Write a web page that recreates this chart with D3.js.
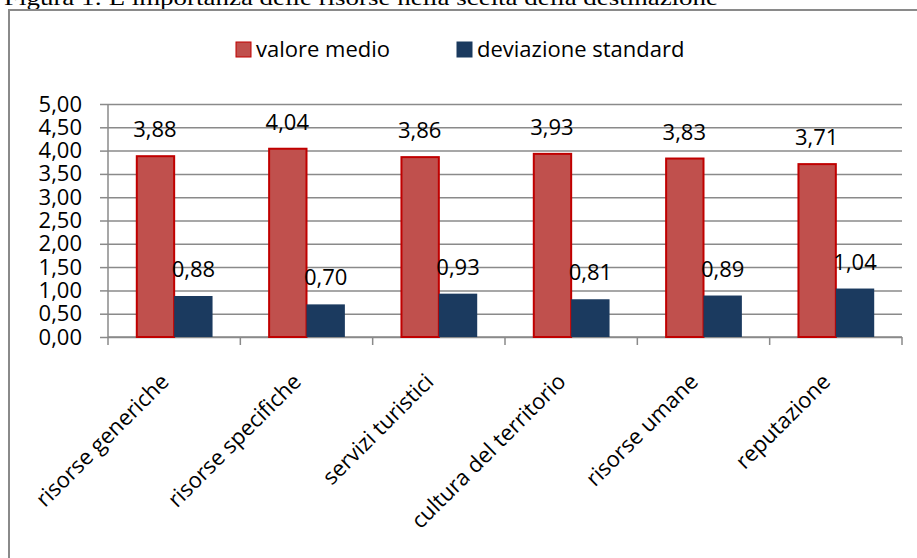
<!DOCTYPE html>
<html>
<head>
<meta charset="utf-8">
<script src="https://cdn.jsdelivr.net/npm/d3@7"></script>
<style>
  body { margin: 0; background: #fff; }
  svg { display: block; }
  text { font-family: "Open Sans", sans-serif; fill: #000; }
  .title { font-family: "Liberation Serif", "Times New Roman", serif; }
</style>
</head>
<body>
<svg id="chart" width="917" height="558"></svg>
<script>
var categories = ["risorse generiche", "risorse specifiche", "servizi turistici", "cultura del territorio", "risorse umane", "reputazione"];
var seriesNames = ["valore medio", "deviazione standard"];
var valoreMedio = [3.88, 4.04, 3.86, 3.93, 3.83, 3.71];
var deviazioneStandard = [0.88, 0.70, 0.93, 0.81, 0.89, 1.04];
var yTicks = [0, 0.5, 1, 1.5, 2, 2.5, 3, 3.5, 4, 4.5, 5];
var titleText = "Figura 1: L\u2019importanza delle risorse nella scelta della destinazione";

var colors = ["#c0504d", "#1b3a5f"];
var strokes = ["#c00000", "#1b3a5f"];
var fmt = function(d) { return d.toFixed(2).replace('.', ','); };

var svg = d3.select("#chart");

// title (cut off at top) and frame
svg.append('text').attr('class', 'title').attr('x', 4).attr('y', 5).attr('font-size', 22)
  .attr('textLength', 714).attr('lengthAdjust', 'spacingAndGlyphs').text(titleText);
svg.append('rect').attr('x', 9).attr('y', 10).attr('width', 1000).attr('height', 700)
  .attr('fill', 'none').attr('stroke', '#8a8a8a').attr('stroke-width', 2);

var plotLeft = 108, plotRight = 902, plotTop = 104, plotBottom = 337;

var yScale = d3.scaleLinear().domain([0, 5]).range([plotBottom, plotTop]);
var x0 = d3.scaleBand().domain(categories).range([plotLeft, plotRight]).paddingInner(0.42).paddingOuter(0.21);
var x1 = d3.scaleBand().domain(seriesNames).range([0, x0.bandwidth()]);

// gridlines
svg.append('g').attr('transform', 'translate(' + plotLeft + ',0)')
  .call(d3.axisLeft(yScale).tickValues(yTicks).tickSize(-(plotRight - plotLeft)).tickFormat(''))
  .call(function(g) {
    g.select('.domain').remove();
    g.selectAll('line').attr('stroke', '#8a8a8a').attr('stroke-width', 1.5);
  });

// y axis
svg.append('g').attr('transform', 'translate(' + plotLeft + ',0)')
  .call(d3.axisLeft(yScale).tickValues(yTicks).tickSize(8).tickPadding(18).tickFormat(fmt))
  .call(function(g) {
    g.select('.domain').attr('stroke', '#8a8a8a').attr('stroke-width', 1.5).attr('d', 'M0,' + plotTop + 'V' + plotBottom);
    g.selectAll('line').attr('stroke', '#8a8a8a').attr('stroke-width', 1.5);
    g.selectAll('text').attr('font-size', 22).attr('font-family', '"Open Sans", sans-serif').attr('fill', '#000');
  });

// x axis line and ticks at category boundaries
var step = x0.step();
var bounds = d3.range(categories.length + 1).map(function(i) { return plotLeft + i * step; });
svg.append('line').attr('x1', plotLeft).attr('x2', plotRight).attr('y1', plotBottom).attr('y2', plotBottom)
  .attr('stroke', '#8a8a8a').attr('stroke-width', 1.5);
svg.selectAll('.xtick').data(bounds).enter().append('line').attr('class', 'xtick')
  .attr('x1', function(d) { return d; }).attr('x2', function(d) { return d; })
  .attr('y1', plotBottom).attr('y2', plotBottom + 8)
  .attr('stroke', '#8a8a8a').attr('stroke-width', 1.5);

// bars
var series = [valoreMedio, deviazioneStandard];
series.forEach(function(vals, si) {
  var g = svg.append('g');
  g.selectAll('rect').data(vals).enter().append('rect')
    .attr('x', function(d, i) { return x0(categories[i]) + x1(seriesNames[si]) + (si === 0 ? 1 : 0); })
    .attr('y', function(d) { return yScale(d); })
    .attr('width', x1.bandwidth() - (si === 0 ? 1 : 0))
    .attr('height', function(d) { return plotBottom - yScale(d); })
    .attr('fill', colors[si])
    .attr('stroke', si === 0 ? strokes[si] : 'none')
    .attr('stroke-width', 2);
  g.selectAll('text').data(vals).enter().append('text')
    .attr('x', function(d, i) { return x0(categories[i]) + x1(seriesNames[si]) + x1.bandwidth() / 2; })
    .attr('y', function(d) { return yScale(d) - 19; })
    .attr('text-anchor', 'middle').attr('font-size', 22)
    .text(fmt);
});

// x labels
svg.selectAll('.xlabel').data(categories).enter().append('text').attr('class', 'xlabel')
  .attr('transform', function(d) { return 'translate(' + (x0(d) + x0.bandwidth() / 2 - 4) + ',383) rotate(-45)'; })
  .attr('text-anchor', 'end').attr('font-size', 22)
  .text(function(d) { return d; });

// legend
var legendX = [236, 457];
seriesNames.forEach(function(name, i) {
  svg.append('rect').attr('x', legendX[i]).attr('y', 42).attr('width', 15).attr('height', 15)
    .attr('fill', colors[i]).attr('stroke', strokes[i]).attr('stroke-width', 1);
  svg.append('text').attr('x', legendX[i] + 20).attr('y', 57).attr('font-size', 22).text(name);
});
</script>
</body>
</html>
